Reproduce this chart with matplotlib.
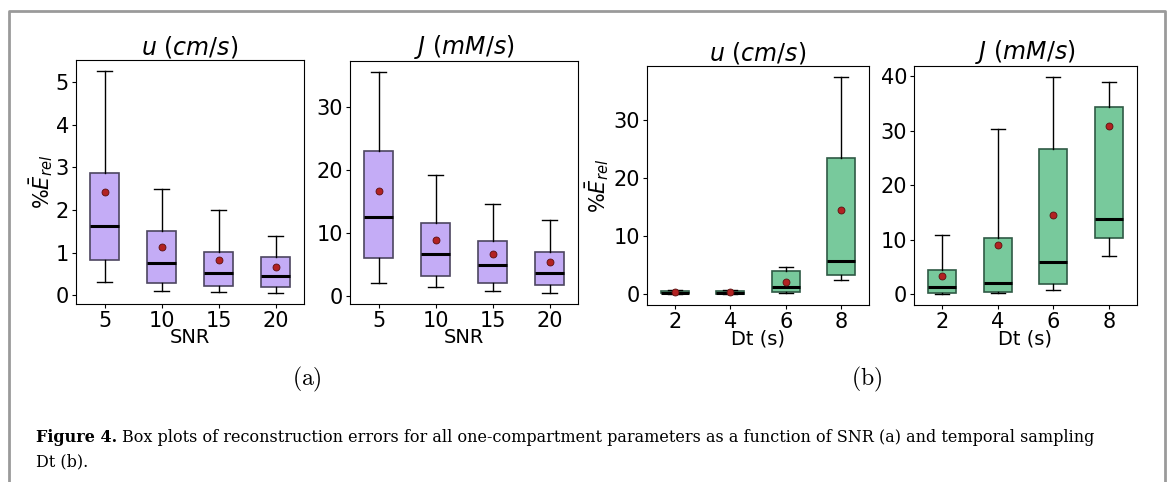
import matplotlib
matplotlib.use("Agg")
import matplotlib.pyplot as plt
from matplotlib.ticker import MultipleLocator

# ---------------------------------------------------------------
# values (whisker low, Q1, median, Q3, whisker high, mean)
# ---------------------------------------------------------------
snr_labels = ["5", "10", "15", "20"]
dt_labels = ["2", "4", "6", "8"]

u_snr_low = [0.32, 0.11, 0.09, 0.06]
u_snr_q1 = [0.82, 0.30, 0.23, 0.20]
u_snr_med = [1.62, 0.77, 0.52, 0.45]
u_snr_q3 = [2.87, 1.52, 1.02, 0.90]
u_snr_high = [5.25, 2.49, 1.99, 1.39]
u_snr_mean = [2.41, 1.14, 0.82, 0.66]

j_snr_low = [2.0, 1.37, 0.69, 0.42]
j_snr_q1 = [5.92, 3.06, 2.0, 1.69]
j_snr_med = [12.57, 6.66, 4.81, 3.54]
j_snr_q3 = [22.98, 11.62, 8.66, 6.97]
j_snr_high = [35.6, 19.28, 14.53, 11.99]
j_snr_mean = [16.7, 8.87, 6.66, 5.28]

u_dt_low = [0.05, 0.02, 0.17, 2.47]
u_dt_q1 = [0.15, 0.06, 0.34, 3.27]
u_dt_med = [0.30, 0.29, 1.32, 5.79]
u_dt_q3 = [0.50, 0.57, 4.02, 23.35]
u_dt_high = [0.65, 0.80, 4.76, 37.35]
u_dt_mean = [0.40, 0.40, 2.12, 14.4]

j_dt_low = [0.06, 0.24, 0.79, 7.02]
j_dt_q1 = [0.24, 0.43, 1.89, 10.32]
j_dt_med = [1.28, 2.02, 5.86, 13.74]
j_dt_q3 = [4.46, 10.26, 26.63, 34.32]
j_dt_high = [10.87, 30.29, 39.82, 38.9]
j_dt_mean = [3.42, 9.04, 14.53, 30.78]

PURPLE = "#c4acf6"
GREEN = "#78c99c"

W, H = 1171, 482
fig = plt.figure(figsize=(W / 100, H / 100), dpi=100)


def px_axes(left, top, right, bottom):
    return fig.add_axes([left / W, 1 - bottom / H, (right - left) / W, (bottom - top) / H])


def make_stats(labels, low, q1, med, q3, high, mean):
    return [
        dict(label=l, whislo=a, q1=b, med=c, q3=d, whishi=e, mean=m, fliers=[])
        for l, a, b, c, d, e, m in zip(labels, low, q1, med, q3, high, mean)
    ]


# (axes box in px, stats, title, xlabel, ylabel x in axes coords or None, y step, colours)
panels = [
    ((76, 60, 304, 304), make_stats(snr_labels, u_snr_low, u_snr_q1, u_snr_med, u_snr_q3, u_snr_high, u_snr_mean),
     r"$u\ (cm/s)$", "SNR", -0.092, 1, PURPLE, "#4d4660"),
    ((350, 61, 578, 304), make_stats(snr_labels, j_snr_low, j_snr_q1, j_snr_med, j_snr_q3, j_snr_high, j_snr_mean),
     r"$J\ (mM/s)$", "SNR", None, 10, PURPLE, "#4d4660"),
    ((647, 66, 869, 305), make_stats(dt_labels, u_dt_low, u_dt_q1, u_dt_med, u_dt_q3, u_dt_high, u_dt_mean),
     r"$u\ (cm/s)$", "Dt (s)", -0.16, 10, GREEN, "#2f5a45"),
    ((914, 66, 1137, 305), make_stats(dt_labels, j_dt_low, j_dt_q1, j_dt_med, j_dt_q3, j_dt_high, j_dt_mean),
     r"$J\ (mM/s)$", "Dt (s)", None, 10, GREEN, "#2f5a45"),
]

for box, stats, title, xlabel, ylab_x, ystep, fill, edge in panels:
    ax = px_axes(*box)
    ax.bxp(
        stats,
        showmeans=True,
        showfliers=False,
        patch_artist=True,
        widths=0.5,
        boxprops=dict(facecolor=fill, edgecolor=edge, linewidth=1.2),
        medianprops=dict(color="black", linewidth=2.2),
        whiskerprops=dict(color="black", linewidth=1),
        capprops=dict(color="black", linewidth=1),
        meanprops=dict(marker="o", markerfacecolor="#b22222", markeredgecolor="#5a1010",
                       markersize=5, markeredgewidth=0.6),
    )
    ax.yaxis.set_major_locator(MultipleLocator(ystep))
    ax.set_title(title, fontsize=17, pad=4)
    ax.set_xlabel(xlabel, fontsize=14, labelpad=-2)
    if ylab_x is not None:
        ax.set_ylabel(r"$\%\bar{E}_{rel}$", fontsize=15)
        ax.yaxis.set_label_coords(ylab_x, 0.5)
    ax.tick_params(labelsize=15, length=3, pad=2)

# panel letters
fig.text(307 / W, 1 - 379 / H, r"$\mathrm{(a)}$", math_fontfamily="cm", fontsize=17,
         ha="center", va="center")
fig.text(867 / W, 1 - 379 / H, r"$\mathrm{(b)}$", math_fontfamily="cm", fontsize=17,
         ha="center", va="center")

# caption
cap_font = "DejaVu Serif"
t = fig.text(36 / W, 1 - 442 / H, "Figure 4.", fontsize=11.5, fontweight="bold",
             family=cap_font, ha="left", va="baseline")
fig.canvas.draw()
bb = t.get_window_extent()
fig.text((bb.x1 + 5) / W, 1 - 442 / H,
         "Box plots of reconstruction errors for all one-compartment parameters as a function of SNR (a) and temporal sampling",
         fontsize=11.5, family=cap_font, ha="left", va="baseline")
fig.text(36 / W, 1 - 466 / H, "Dt (b).", fontsize=11.5, family=cap_font,
         ha="left", va="baseline")

# page frame (open at the bottom)
fig.add_artist(plt.Line2D([9 / W, 9 / W, 1165 / W, 1165 / W], [0, 1 - 11 / H, 1 - 11 / H, 0],
                          transform=fig.transFigure, color="#9a9a9a", linewidth=2))

fig.savefig("out.png", dpi=100)
